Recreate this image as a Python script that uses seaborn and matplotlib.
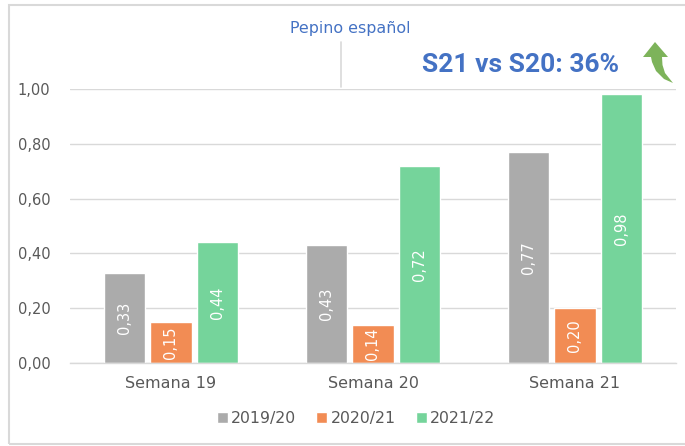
import matplotlib
matplotlib.use("Agg")
import matplotlib.pyplot as plt
import seaborn as sns
import pandas as pd
from matplotlib.patches import Polygon, Rectangle
from matplotlib.lines import Line2D

categories = ["Semana 19", "Semana 20", "Semana 21"]
seasons = ["2019/20", "2020/21", "2021/22"]
v_2019_20 = [0.33, 0.43, 0.77]
v_2020_21 = [0.15, 0.14, 0.20]
v_2021_22 = [0.44, 0.72, 0.98]
colors = ["#ABABAB", "#F28C54", "#75D49B"]
title = "Pepino español"
headline = "S21 vs S20: 36%"

rows = []
for s, vals in zip(seasons, [v_2019_20, v_2020_21, v_2021_22]):
    for c, v in zip(categories, vals):
        rows.append({"Semana": c, "Temporada": s, "Valor": v})
df = pd.DataFrame(rows)

sns.set_style("white")
plt.rcParams["font.family"] = ["DejaVu Sans"]

W, H = 685, 446
fig = plt.figure(figsize=(W / 100, H / 100), dpi=100)
ax = fig.add_axes([70 / W, 1 - 363 / H, 606 / W, 274 / H])

sns.barplot(data=df, x="Semana", y="Valor", hue="Temporada", order=categories,
            hue_order=seasons, palette=colors, width=0.69, gap=0.1,
            saturation=1, ax=ax, legend=True)

for cont in ax.containers:
    labels = [f"{b.get_height():.2f}".replace(".", ",") for b in cont]
    ax.bar_label(cont, labels=labels, label_type="center", rotation=90,
                 color="white", fontsize=10.5)

ax.set_ylim(0, 1.0)
ax.set_xlim(-0.5, 2.5)
ticks = [0, 0.2, 0.4, 0.6, 0.8, 1.0]
ax.set_yticks(ticks)
ax.set_yticklabels([f"{t:.2f}".replace(".", ",") for t in ticks])
ax.yaxis.grid(True, color="#D9D9D9", linewidth=1)
ax.set_axisbelow(True)
for sp in ["left", "right", "top"]:
    ax.spines[sp].set_visible(False)
ax.spines["bottom"].set_color("#D9D9D9")
ax.spines["bottom"].set_linewidth(1)
ax.tick_params(axis="x", length=0, labelsize=11.5, colors="#595959", pad=9)
ax.tick_params(axis="y", length=0, labelsize=10.5, colors="#595959", pad=14)
ax.set_xlabel("")
ax.set_ylabel("")

leg = ax.legend(loc="center", bbox_to_anchor=(356 / W, 1 - 418 / H),
                bbox_transform=fig.transFigure, ncol=3, frameon=False,
                handlelength=0.7, handleheight=0.7, handletextpad=0.2,
                columnspacing=1.3, fontsize=11.3)
for t in leg.get_texts():
    t.set_color("#595959")

# Title and headline
fig.text(350 / W, 1 - 29 / H, title, ha="center", va="center",
         color="#4472C4", fontsize=11.4)
fig.text(520 / W, 1 - 65 / H, headline, ha="center", va="center",
         color="#4472C4", fontsize=19, fontweight="bold",
         family=["Roboto", "DejaVu Sans"])

# divider line
fig.add_artist(Line2D([341 / W, 341 / W], [1 - 42 / H, 1 - 87 / H],
                      transform=fig.transFigure, color="#D9D9D9", linewidth=1.2))

# curved up arrow
pts = [(643, 57), (655, 42), (668, 57), (662, 57), (662.5, 65), (665, 73),
       (673, 83), (664, 79), (656, 71), (652, 62), (651, 57)]
fig.add_artist(Polygon([(x / W, 1 - y / H) for x, y in pts], closed=True,
                       transform=fig.transFigure, facecolor="#7DB35A",
                       edgecolor="none"))

# chart border
fig.add_artist(Rectangle((9 / W, 1 - 444 / H), 680 / W, 439 / H,
                         transform=fig.transFigure, fill=False,
                         edgecolor="#D9D9D9", linewidth=1.5))

fig.savefig("out.png", dpi=100)
